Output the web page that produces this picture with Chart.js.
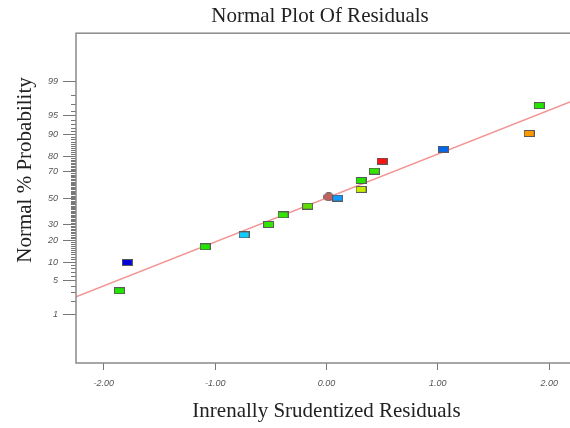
<!DOCTYPE html>
<html>
<head>
<meta charset="utf-8">
<script src="https://cdn.jsdelivr.net/npm/chart.js@4.4.1/dist/chart.umd.min.js"></script>
<style>
  html, body { margin: 0; padding: 0; background: #fff; overflow: hidden; }
  #wrap { width: 640px; height: 428px; }
</style>
</head>
<body>
<div id="wrap"><canvas id="chart" width="640" height="428"></canvas></div>
<script>
// residuals (x) and normal % probability (y)
const residuals = [-1.86, -1.79, -1.09, -0.74, -0.52, -0.39, -0.17, 0.02, 0.10, 0.31, 0.31, 0.43, 0.50, 1.05, 1.82, 1.91];
const probabilities = [3.2, 9.9, 16.5, 23.1, 29.9, 36.9, 43.6, 51.0, 50.0, 56.9, 63.8, 70.5, 77.0, 83.6, 90.2, 96.8];
const pointColors = ['#22e600', '#0000dd', '#22e600', '#11ccff', '#33e600', '#33e600', '#5fdc00', '#c46060',
                     '#1199ff', '#c8ec00', '#22e600', '#33e600', '#ff1111', '#0066ee', '#ff9900', '#22e600'];

// fitted line ends
const fitX = [-2.25, 2.25];
const fitY = [2.4, 97.6];

const xTicks = [-2, -1, 0, 1, 2];
const yTicks = [1, 5, 10, 20, 30, 50, 70, 80, 90, 95, 99];

// inverse normal cdf (Acklam)
function probit(p) {
    const a = [-3.969683028665376e+01, 2.209460984245205e+02, -2.759285104469687e+02, 1.383577518672690e+02, -3.066479806614716e+01, 2.506628277459239e+00];
    const b = [-5.447609879822406e+01, 1.615858368580409e+02, -1.556989798598866e+02, 6.680131188771972e+01, -1.328068155288572e+01];
    const c = [-7.784894002430293e-03, -3.223964580411365e-01, -2.400758277161838e+00, -2.549732539343734e+00, 4.374664141464968e+00, 2.938163982698783e+00];
    const d = [7.784695709041462e-03, 3.224671290700398e-01, 2.445134137142996e+00, 3.754408661907416e+00];
    const plow = 0.02425;
    let q, r;
    if (p < plow) {
        q = Math.sqrt(-2 * Math.log(p));
        return (((((c[0]*q+c[1])*q+c[2])*q+c[3])*q+c[4])*q+c[5]) / ((((d[0]*q+d[1])*q+d[2])*q+d[3])*q+1);
    }
    if (p > 1 - plow) {
        q = Math.sqrt(-2 * Math.log(1 - p));
        return -(((((c[0]*q+c[1])*q+c[2])*q+c[3])*q+c[4])*q+c[5]) / ((((d[0]*q+d[1])*q+d[2])*q+d[3])*q+1);
    }
    q = p - 0.5;
    r = q * q;
    return (((((a[0]*r+a[1])*r+a[2])*r+a[3])*r+a[4])*r+a[5])*q / (((((b[0]*r+b[1])*r+b[2])*r+b[3])*r+b[4])*r+1);
}

// linear scale in z units, values given in percent
class ProbitScale extends Chart.LinearScale {
    buildTicks() {
        return yTicks.map(v => ({ value: v }));
    }
    getPixelForValue(value) {
        if (value === null || value === undefined) return NaN;
        return super.getPixelForValue(probit(value / 100));
    }
}
ProbitScale.id = 'probit';
ProbitScale.defaults = Chart.LinearScale.defaults;
Chart.register(ProbitScale);

function marker(color, w, h, round) {
    const cv = document.createElement('canvas');
    cv.width = w; cv.height = h;
    const ctx = cv.getContext('2d');
    ctx.fillStyle = color;
    ctx.strokeStyle = '#5a5a5a';
    ctx.lineWidth = 1;
    if (round) {
        ctx.beginPath();
        ctx.ellipse(w / 2, h / 2, w / 2 - 0.5, h / 2 - 0.5, 0, 0, Math.PI * 2);
        ctx.fill();
        ctx.stroke();
    } else {
        ctx.fillRect(0, 0, w, h);
        ctx.strokeRect(0.5, 0.5, w - 1, h - 1);
    }
    return cv;
}

const markers = pointColors.map((c, i) => i === 7 ? marker(c, 11, 9, true) : marker(c, 11, 7, false));

const titleFont = { family: '"Liberation Serif", "Times New Roman", serif', size: 21, weight: 'normal' };
const tickFont = { family: 'Arial, "Liberation Sans", sans-serif', size: 9, style: 'italic' };

// frame round the plot, minor probability ticks, y title
const framePlugin = {
    id: 'frame',
    afterDraw(chart) {
        const { ctx, chartArea: a } = chart;
        const y = chart.scales.y;
        ctx.save();
        ctx.strokeStyle = '#777';
        ctx.lineWidth = 1;
        for (let p = 2; p <= 98; p++) {
            if (yTicks.includes(p)) continue;
            const py = Math.round(y.getPixelForValue(p)) + 0.5;
            ctx.beginPath();
            ctx.moveTo(a.left - 5, py);
            ctx.lineTo(a.left, py);
            ctx.stroke();
        }
        ctx.strokeStyle = '#8a8a8a';
        ctx.lineWidth = 1.5;
        ctx.strokeRect(a.left, a.top, a.right - a.left, a.bottom - a.top);

        ctx.translate(25, 170);
        ctx.rotate(-Math.PI / 2);
        ctx.fillStyle = '#222';
        ctx.font = '21px ' + titleFont.family;
        ctx.textAlign = 'center';
        ctx.textBaseline = 'middle';
        ctx.fillText('Normal % Probability', 0, 0);
        ctx.restore();
    }
};

new Chart(document.getElementById('chart'), {
    type: 'scatter',
    data: {
        datasets: [
            {
                data: residuals.map((x, i) => ({ x: x, y: probabilities[i] })),
                pointStyle: markers,
                pointRadius: 5,
                pointHoverRadius: 5,
                order: 0
            },
            {
                type: 'line',
                data: fitX.map((x, i) => ({ x: x, y: fitY[i] })),
                borderColor: '#f39494',
                borderWidth: 1.5,
                pointRadius: 0,
                fill: false,
                order: 1
            }
        ]
    },
    options: {
        responsive: false,
        animation: false,
        events: [],
        layout: { padding: 0 },
        plugins: {
            legend: { display: false },
            tooltip: { enabled: false },
            title: {
                display: true,
                text: 'Normal Plot Of Residuals',
                color: '#222',
                font: titleFont,
                padding: { top: 4, bottom: 4 }
            }
        },
        scales: {
            x: {
                type: 'linear',
                min: -2.25,
                max: 2.25,
                afterBuildTicks: s => { s.ticks = xTicks.map(v => ({ value: v })); },
                afterFit: s => { s.height = 65; },
                border: { display: false },
                grid: { drawOnChartArea: false, tickLength: 7, color: '#777' },
                ticks: {
                    color: '#555',
                    font: tickFont,
                    padding: 8,
                    autoSkip: false,
                    maxRotation: 0,
                    callback: v => v.toFixed(2)
                },
                title: {
                    display: true,
                    text: 'Inrenally Srudentized Residuals',
                    color: '#222',
                    font: titleFont,
                    padding: { top: 0, bottom: 4 }
                }
            },
            y: {
                type: 'probit',
                min: -3.3,
                max: 3.3,
                afterFit: s => { s.width = 76; },
                border: { display: false },
                grid: { drawOnChartArea: false, tickLength: 13, color: '#777' },
                ticks: {
                    color: '#555',
                    font: tickFont,
                    padding: 5,
                    autoSkip: false,
                    callback: v => String(v)
                }
            },
            // empty right gutter so the frame runs past the window edge
            y2: {
                type: 'linear',
                position: 'right',
                afterFit: s => { s.width = 63; },
                border: { display: false },
                grid: { display: false },
                ticks: { display: false }
            }
        }
    },
    plugins: [framePlugin]
});
</script>
</body>
</html>
